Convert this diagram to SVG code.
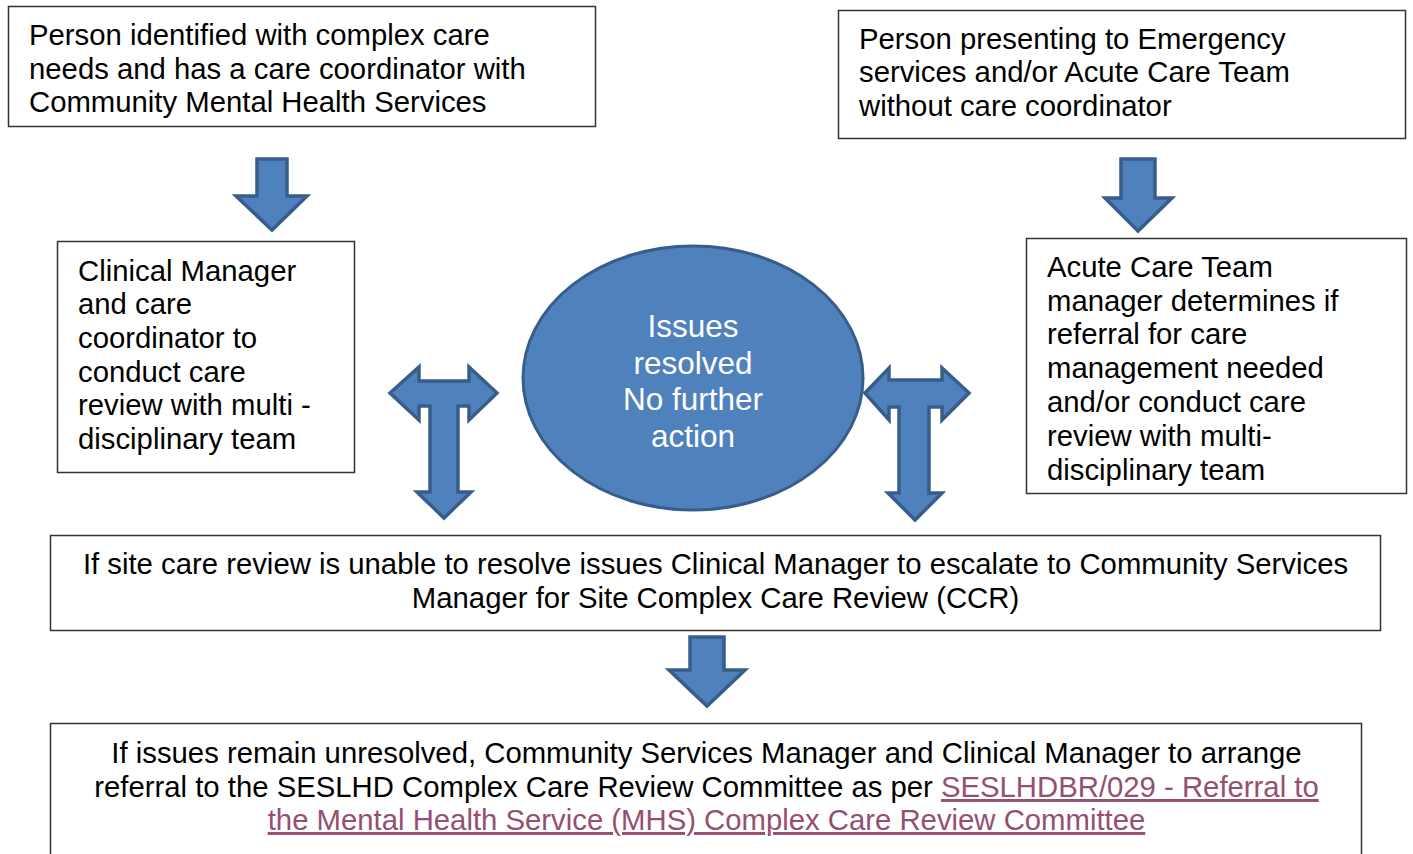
<svg xmlns="http://www.w3.org/2000/svg" width="1413" height="854" viewBox="0 0 1413 854">
  <style>
    .box { fill: #ffffff; stroke: #333333; stroke-width: 1.5; }
    .txt { font-family: "Liberation Sans", Arial, sans-serif; font-size: 29.3px; fill: #000000; }
    .mid { text-anchor: middle; }
    .link { fill: #954F72; text-decoration: underline; }
    .arrow { fill: #4F81BD; stroke: #385D8A; stroke-width: 3.5; stroke-linejoin: miter; }
    .oval { fill: #4F81BD; stroke: #385D8A; stroke-width: 3; }
    .oval-txt { font-family: "Liberation Sans", Arial, sans-serif; font-size: 31.5px; fill: #ffffff; text-anchor: middle; }
  </style>

  <rect width="1413" height="854" fill="#ffffff"/>

  <!-- connectors: block arrows -->
  <g id="connectors">
    <polygon class="arrow" points="257,159 287,159 287,196 307,196 272,230 236,196 257,196"/>
    <polygon class="arrow" points="1121,159 1155,159 1155,198 1172,198 1138,231 1105,198 1121,198"/>
    <polygon class="arrow" points="690,637 724,637 724,670 745,670 707,706 669,670 690,670"/>
    <!-- two-way / three-way T arrows beside the oval -->
    <polygon class="arrow" points="390,393 419,367 419,381 469,381 469,367 497,393 469,420 469,406 458,406 458,492 471,492 444,518 417,492 430,492 430,406 419,406 419,420"/>
    <polygon class="arrow" points="865,393 889,368 889,380 942,380 942,368 969,393 942,420 942,407 929,407 929,493 942,493 915,520 888,493 899,493 899,407 889,407 889,420"/>
  </g>

  <g id="node-cmhs">
    <rect class="box" x="8.5" y="6.5" width="587" height="120"/>
    <text class="txt" x="29" y="45">Person identified with complex care</text>
    <text class="txt" x="29" y="78.5">needs and has a care coordinator with</text>
    <text class="txt" x="29" y="112">Community Mental Health Services</text>
  </g>

  <g id="node-emergency">
    <rect class="box" x="838.5" y="10.5" width="567" height="128"/>
    <text class="txt" x="859" y="48.5">Person presenting to Emergency</text>
    <text class="txt" x="859" y="82">services and/or Acute Care Team</text>
    <text class="txt" x="859" y="115.5">without care coordinator</text>
  </g>

  <g id="node-clinical-manager">
    <rect class="box" x="57.5" y="241.5" width="297" height="231"/>
    <text class="txt" x="78" y="281">Clinical Manager</text>
    <text class="txt" x="78" y="314">and care</text>
    <text class="txt" x="78" y="348">coordinator to</text>
    <text class="txt" x="78" y="382">conduct care</text>
    <text class="txt" x="78" y="415">review with multi -</text>
    <text class="txt" x="78" y="449">disciplinary team</text>
  </g>

  <g id="node-acute-care">
    <rect class="box" x="1026.5" y="238.5" width="380" height="255"/>
    <text class="txt" x="1047" y="277">Acute Care Team</text>
    <text class="txt" x="1047" y="311">manager determines if</text>
    <text class="txt" x="1047" y="344">referral for care</text>
    <text class="txt" x="1047" y="378">management needed</text>
    <text class="txt" x="1047" y="412">and/or conduct care</text>
    <text class="txt" x="1047" y="446">review with multi-</text>
    <text class="txt" x="1047" y="480">disciplinary team</text>
  </g>

  <g id="node-resolved">
    <ellipse class="oval" cx="693" cy="378" rx="170" ry="132"/>
    <text class="oval-txt" x="693" y="337">Issues</text>
    <text class="oval-txt" x="693" y="373.5">resolved</text>
    <text class="oval-txt" x="693" y="410">No further</text>
    <text class="oval-txt" x="693" y="447">action</text>
  </g>

  <g id="node-site-ccr">
    <rect class="box" x="50.5" y="535.5" width="1330" height="95"/>
    <text class="txt mid" x="715.5" y="574">If site care review is unable to resolve issues Clinical Manager to escalate to Community Services</text>
    <text class="txt mid" x="715.5" y="608">Manager for Site Complex Care Review (CCR)</text>
  </g>

  <g id="node-committee">
    <rect class="box" x="50.5" y="723.5" width="1311" height="140"/>
    <text class="txt mid" x="706.5" y="763">If issues remain unresolved, Community Services Manager and Clinical Manager to arrange</text>
    <text class="txt mid" x="706.5" y="797">referral to the SESLHD Complex Care Review Committee as per <tspan class="link">SESLHDBR/029 - Referral to</tspan></text>
    <text class="txt mid link" x="706.5" y="830">the Mental Health Service (MHS) Complex Care Review Committee</text>
  </g>
</svg>
